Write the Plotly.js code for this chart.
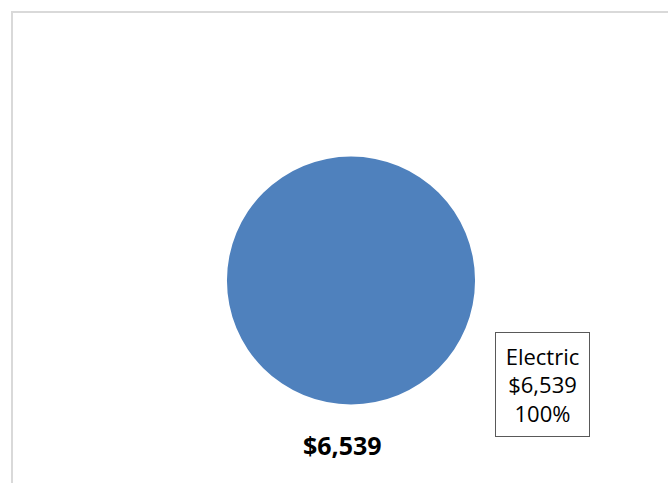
<!DOCTYPE html>
<html>
<head>
<meta charset="utf-8">
<script src="https://cdn.plot.ly/plotly-3.0.1.min.js"></script>
<style>html,body{margin:0;padding:0;background:#fff;}#chart{width:668px;height:483px;}</style>
</head>
<body>
<div id="chart"></div>
<script>
const categories = ["Electric"];
const values = [6539];
const colors = ["#4F81BD"];

const W = 668, H = 483;
const total = values.reduce((a, b) => a + b, 0);
const fmt = v => "$" + v.toLocaleString("en-US");

const trace = {
  type: "pie",
  labels: categories,
  values: values,
  marker: {colors: colors, line: {width: 0}},
  textinfo: "none",
  hoverinfo: "label+value+percent",
  sort: false,
  showlegend: false,
  domain: {x: [227/W, 475/W], y: [(H-405)/H, (H-156)/H]}
};

const annotations = categories.map((c, i) => ({
  xref: "paper", yref: "paper",
  x: 542.5/W, y: (H-384.5)/H,
  xanchor: "center", yanchor: "middle",
  text: c + "<br>" + fmt(values[i]) + "<br>" + Math.round(values[i]/total*100) + "%",
  showarrow: false,
  font: {family: "Open Sans, Liberation Sans, sans-serif", size: 22, color: "#000"},
  bordercolor: "#595959", borderwidth: 1, borderpad: 0,
  bgcolor: "#fff", width: 93, height: 103, align: "center"
}));
annotations.push({
  xref: "paper", yref: "paper",
  x: 342/W, y: (H-445)/H,
  xanchor: "center", yanchor: "middle",
  text: "<b>" + fmt(total) + "</b>",
  showarrow: false,
  font: {family: "Open Sans, Liberation Sans, sans-serif", size: 25, color: "#000"}
});

const layout = {
  width: W, height: H,
  margin: {l: 0, r: 0, t: 0, b: 0},
  paper_bgcolor: "#fff",
  annotations: annotations,
  shapes: [{
    type: "rect", xref: "paper", yref: "paper",
    x0: 12/W, x1: 1.05, y0: -0.05, y1: (H-12)/H,
    line: {color: "#d9d9d9", width: 2}
  }]
};

Plotly.newPlot("chart", [trace], layout, {displayModeBar: false});
</script>
</body>
</html>
